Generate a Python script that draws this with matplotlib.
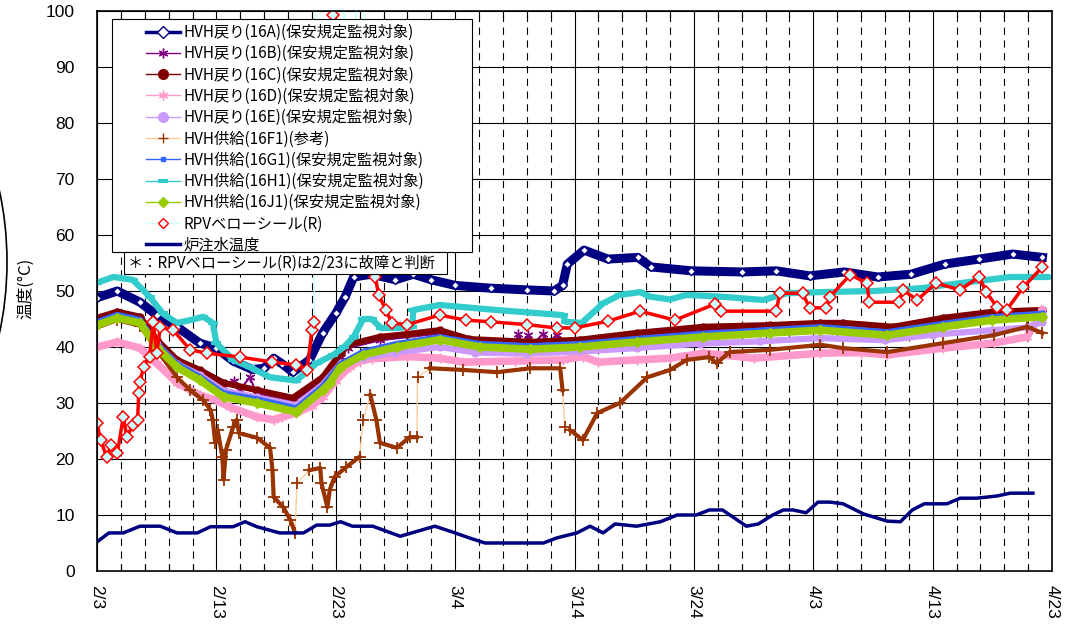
import matplotlib
matplotlib.use('Agg')
import matplotlib.pyplot as plt
from matplotlib.lines import Line2D
from matplotlib.patches import Rectangle, Ellipse
from matplotlib.ticker import MultipleLocator
import numpy as np

plt.rcParams['font.family'] = ['Noto Sans CJK JP', 'DejaVu Sans']

# x軸: 2/3からの経過日数 (2012年, 閏年)
x_ticks = [0, 10, 20, 30, 40, 50, 60, 70, 80]
x_labels = ['2/3', '2/13', '2/23', '3/4', '3/14', '3/24', '4/3', '4/13', '4/23']
y_ticks = [0, 10, 20, 30, 40, 50, 60, 70, 80, 90, 100]

# HVH戻り(16A)
a_day = [0, 1.7, 3.6, 5.0, 6.7, 8.6, 10.0, 11.4, 13.0, 14.0, 14.8, 15.5, 16.4, 17.8,
         18.9, 20.0, 20.8, 21.5, 23.0, 25.0, 26.5, 28.0, 30.0, 33.0, 36.0, 38.3, 39.0,
         39.4, 40.8, 42.8, 45.3, 46.4, 49.8, 54.0, 56.9, 59.7, 62.6, 65.4, 68.2, 71.0,
         73.9, 76.7, 79.2]
a_val = [48.8, 50.0, 48.0, 45.7, 43.6, 40.7, 39.8, 37.5, 36.0, 36.2, 38.0, 37.0, 35.5, 37.7,
         42.5, 46.0, 49.0, 52.5, 53.0, 52.0, 53.0, 52.0, 51.0, 50.5, 50.2, 50.0, 51.0,
         54.8, 57.3, 55.7, 56.0, 54.3, 53.6, 53.4, 53.6, 52.7, 53.4, 52.5, 53.0, 54.8,
         55.7, 56.6, 56.0]

# HVH戻り(16B)
b_day = [0, 1.7, 3.6, 5.0, 6.7, 8.6, 10.6, 11.5, 12.0, 12.8, 13.4, 16.4, 18.9, 20.4,
         21.0, 23.7, 28.7, 31.2, 35.0, 35.3, 35.7, 36.1, 36.5, 37.4, 37.8, 38.5, 39.0,
         40.5, 45.2, 50.8, 56.4, 60.6, 66.7, 70.9, 75.1, 79.2]
b_val = [44.6, 45.7, 44.8, 40.7, 37.1, 35.2, 32.9, 34.0, 32.4, 34.6, 31.6, 30.2, 33.9, 38.2,
         39.8, 41.2, 42.4, 40.8, 40.5, 42.3, 40.5, 42.1, 40.5, 42.4, 40.6, 42.2, 40.6,
         40.7, 41.9, 43.0, 43.3, 43.7, 43.0, 44.6, 45.7, 46.0]

# HVH戻り(16C)
c_day = [0, 1.7, 3.6, 5.0, 6.7, 8.6, 10.6, 13.4, 16.4, 18.9, 20.4, 21.0, 23.7, 26.0,
         28.7, 31.2, 36.3, 40.5, 45.2, 50.8, 56.4, 60.6, 62.5, 66.7, 70.9, 75.1, 79.2]
c_val = [45.2, 46.3, 45.4, 41.3, 37.7, 35.9, 33.6, 32.3, 30.9, 34.6, 38.9, 40.4, 41.8, 42.3,
         43.0, 41.4, 40.9, 41.3, 42.5, 43.6, 43.9, 44.3, 44.3, 43.6, 45.2, 46.3, 46.6]

# HVH戻り(16D)
d_day = [0, 1.7, 3.6, 5.0, 6.7, 8.6, 10.0, 11.1, 13.4, 14.8, 15.5, 16.7, 18.0, 18.9,
         20.0, 21.2, 22.0, 23.0, 26.0, 28.7, 30.7, 35.0, 39.0, 40.7, 42.0, 45.2, 48.0,
         50.8, 55.0, 60.6, 64.0, 66.2, 70.9, 75.1, 77.9, 79.2]
d_val = [40.0, 40.9, 39.8, 37.1, 33.6, 31.4, 30.5, 29.3, 27.5, 27.0, 27.5, 28.2, 29.5, 31.0,
         34.0, 36.5, 37.5, 37.9, 38.3, 38.0, 37.3, 37.5, 37.7, 38.3, 37.3, 37.7, 38.0,
         38.9, 38.0, 38.9, 39.0, 38.6, 39.8, 40.7, 41.8, 46.6]

# HVH戻り(16E)
e_day = [0, 1.7, 3.6, 5.0, 6.7, 8.6, 10.6, 13.4, 16.7, 18.9, 20.4, 22.3, 25.0, 28.7,
         31.7, 36.0, 40.5, 45.2, 50.5, 55.5, 60.6, 66.0, 70.0, 75.0, 78.0, 79.2]
e_val = [44.0, 45.2, 44.3, 40.5, 37.0, 35.0, 32.2, 31.0, 29.6, 33.3, 37.0, 38.0, 39.0, 40.0,
         39.0, 38.8, 39.2, 39.8, 40.6, 41.0, 41.6, 41.2, 42.2, 43.0, 43.5, 44.5]

# HVH供給(16F1)
f_day = [0, 1.7, 3.6, 5.0, 6.7, 7.8, 8.9, 9.5, 9.7, 9.9, 10.1, 10.5, 10.6, 10.8, 11.4,
         11.7, 11.9, 13.4, 14.5, 14.7, 14.8, 15.6, 16.2, 16.6, 16.75, 17.8, 18.7, 18.8,
         19.3, 19.5, 19.9, 20.9, 22.0, 22.3, 22.9, 23.4, 23.7, 25.1, 26.2, 26.8, 26.85,
         27.9, 30.7, 33.5, 36.3, 38.8, 39.0, 39.2, 39.6, 40.7, 41.9, 43.8, 46.1, 48.0,
         49.4, 51.3, 51.9, 53.0, 56.4, 60.6, 62.5, 66.2, 70.9, 75.1, 77.9, 79.2]
f_val = [43.5, 44.8, 43.8, 39.5, 34.6, 32.3, 30.5, 28.8, 27.0, 22.9, 25.2, 20.4, 16.3, 21.6,
         25.7, 27.0, 24.6, 23.8, 22.0, 18.0, 13.2, 11.4, 9.1, 6.8, 15.7, 18.0, 18.4, 15.7,
         11.4, 14.5, 16.8, 18.6, 20.4, 27.0, 31.4, 27.0, 22.9, 22.0, 23.9, 23.9, 34.6,
         36.2, 35.9, 35.5, 36.2, 36.2, 32.3, 25.7, 25.2, 23.4, 28.2, 30.0, 34.6, 35.9,
         37.7, 38.2, 37.1, 39.1, 39.5, 40.4, 39.8, 39.1, 40.7, 42.1, 43.6, 42.5]

# HVH供給(16G1)
g_day = [0, 1.7, 3.6, 5.0, 6.7, 8.6, 10.6, 13.4, 16.7, 18.9, 20.4, 22.3, 25.1, 28.7,
         32.1, 36.3, 40.5, 45.2, 50.8, 56.4, 60.6, 66.2, 70.9, 75.0, 79.2]
g_val = [44.5, 45.8, 44.9, 40.6, 37.0, 34.7, 31.8, 30.7, 29.1, 33.0, 37.0, 39.2, 40.6, 41.8,
         40.6, 40.2, 40.6, 41.5, 42.4, 43.1, 43.6, 42.7, 44.2, 45.4, 46.0]

# HVH供給(16H1)
h_day = [0, 1.4, 3.0, 4.4, 5.5, 6.7, 7.8, 8.9, 9.7, 10.0, 11.4, 12.8, 14.5, 16.7, 18.4,
         19.8, 20.7, 21.5, 22.3, 23.0, 23.8, 25.1, 26.4, 26.5, 28.7, 33.5, 39.0, 39.3,
         40.6, 42.4, 43.8, 45.5, 46.3, 48.0, 49.4, 52.2, 55.8, 57.8, 60.6, 65.0, 69.0,
         72.3, 76.5, 79.6]
h_val = [51.5, 52.5, 52.0, 49.0, 46.0, 44.3, 44.8, 45.4, 44.3, 40.7, 37.7, 36.4, 34.6, 34.0,
         37.1, 38.6, 40.0, 41.8, 45.0, 45.0, 43.4, 43.4, 43.6, 46.6, 47.5, 46.6, 45.7, 44.5,
         44.3, 47.8, 49.3, 49.8, 49.0, 48.5, 49.3, 49.0, 48.4, 49.6, 49.8, 50.0, 50.5,
         51.4, 52.5, 52.5]

# HVH供給(16J1)
j_day = [0, 1.7, 3.6, 5.0, 6.7, 8.6, 10.6, 13.4, 16.7, 18.9, 19.5, 20.4, 22.3, 25.1,
         28.7, 32.1, 36.3, 40.5, 45.2, 50.8, 56.4, 60.6, 66.2, 70.9, 75.0, 79.2]
j_val = [43.9, 45.2, 44.3, 40.0, 36.4, 34.1, 31.1, 30.0, 28.4, 32.3, 33.6, 36.4, 38.6, 40.0,
         41.3, 40.0, 39.6, 40.0, 40.9, 41.8, 42.5, 43.0, 42.1, 43.6, 44.8, 45.4]

# RPVベローシール(R)
r_day = [0, 0.3, 0.8, 1.2, 1.7, 2.2, 2.5, 3.0, 3.4, 3.5, 3.6, 3.9, 4.4, 4.7, 5.0, 5.3,
         6.4, 7.8, 9.2, 12.0, 14.7, 16.7, 17.6, 18.0, 18.2, 18.35, 19.7, 19.8, 19.9,
         20.6, 20.7, 20.8, 21.6, 21.7, 21.8, 23.3, 23.6, 24.2, 24.7, 26.0, 28.7, 30.9,
         33.0, 36.0, 38.5, 40.0, 42.8, 45.5, 48.4, 51.8, 52.3, 56.9, 57.2, 59.1, 59.7,
         61.1, 61.4, 63.1, 64.5, 64.7, 67.2, 67.5, 68.7, 70.3, 72.3, 73.9, 74.5, 75.4,
         76.2, 77.6, 79.2]
r_val = [26.4, 23.4, 20.4, 22.5, 21.0, 27.5, 24.0, 26.0, 27.0, 31.8, 33.8, 36.4, 38.2, 44.5,
         38.9, 43.5, 43.0, 39.5, 38.9, 38.2, 37.3, 36.8, 35.9, 43.0, 44.5, 130, 130, 99.3,
         130, 130, 70, 130, 130, 70, 130, 52.5, 49.3, 46.6, 44.3, 44.0, 45.7, 44.8,
         44.5, 44.0, 43.4, 43.4, 44.6, 46.4, 44.8, 47.7, 46.4, 46.4, 49.6, 49.6, 47.0,
         47.0, 49.0, 52.9, 51.4, 48.0, 48.0, 50.2, 48.4, 51.4, 50.2, 52.5, 49.8, 47.1,
         46.6, 50.7, 54.3]

# 炉注水温度
w_day = [0, 1.0, 2.2, 3.6, 5.3, 6.7, 8.4, 9.5, 11.4, 12.4, 13.4, 15.3, 17.3, 18.4, 19.5,
         20.4, 21.4, 23.1, 25.4, 28.3, 30.0, 31.2, 32.5, 37.4, 38.5, 40.2, 41.3, 42.4,
         43.4, 45.2, 47.2, 48.6, 50.2, 51.3, 52.4, 54.4, 55.4, 56.6, 57.5, 58.3, 59.4,
         60.4, 61.4, 62.5, 64.2, 66.2, 67.3, 68.3, 69.3, 71.2, 72.3, 73.7, 75.4, 76.5, 78.4]
w_val = [5.2, 6.8, 6.8, 8.0, 8.0, 6.8, 6.8, 7.9, 7.9, 8.8, 7.9, 6.8, 6.8, 8.2, 8.2,
         8.8, 8.0, 8.0, 6.2, 8.0, 6.8, 5.9, 5.0, 5.0, 5.9, 6.8, 8.0, 6.8,
         8.4, 8.0, 8.8, 10.0, 10.0, 10.9, 10.9, 8.0, 8.4, 10.0, 10.9, 10.9, 10.4,
         12.3, 12.3, 12.0, 10.2, 8.9, 8.8, 10.9, 12.0, 12.0, 13.0, 13.0, 13.4, 13.9, 13.9]

labels = ['HVH戻り(16A)(保安規定監視対象)', 'HVH戻り(16B)(保安規定監視対象)',
          'HVH戻り(16C)(保安規定監視対象)', 'HVH戻り(16D)(保安規定監視対象)',
          'HVH戻り(16E)(保安規定監視対象)', 'HVH供給(16F1)(参考)',
          'HVH供給(16G1)(保安規定監視対象)', 'HVH供給(16H1)(保安規定監視対象)',
          'HVH供給(16J1)(保安規定監視対象)', 'RPVベローシール(R)', '炉注水温度']
note = '＊：RPVベローシール(R)は2/23に故障と判断'

W, H = 1067, 632
fig = plt.figure(figsize=(W / 100, H / 100), dpi=100)
L, R, T, B = 97, 1052, 11, 571
ax = fig.add_axes([L / W, 1 - B / H, (R - L) / W, (B - T) / H])


def px(x, y):
    """画像のピクセル座標 -> axes座標"""
    return (x - L) / (R - L), (B - y) / (B - T)


ast = (6, 2, 0)
# 帯(太線)+マーカー
ax.plot(a_day, a_val, color='#000080', lw=6.5, solid_joinstyle='round', zorder=2)
ax.plot(a_day, a_val, ls='none', marker='D', ms=4.5, mfc='white', mec='#000080', mew=1, zorder=2)
ax.plot(b_day, b_val, color='#800080', lw=1.5, marker=ast, ms=7, mew=1, zorder=2)
ax.plot(c_day, c_val, color='#800000', lw=4.5, marker='o', ms=5, solid_joinstyle='round', zorder=2)
ax.plot(d_day, d_val, color='#FF99CC', lw=5.5, marker=ast, ms=7, mew=1, solid_joinstyle='round', zorder=2)
ax.plot(e_day, e_val, color='#CC99FF', lw=4.5, marker='o', ms=5, solid_joinstyle='round', zorder=2)
ax.plot(f_day, f_val, color='#FFCC99', lw=1, zorder=2)
ax.plot(f_day, f_val, color='#993300', ls='none', marker='+', ms=8, mew=1.3, zorder=2)
f_band = np.array(f_val)
f_diff = np.abs(np.diff(f_band, prepend=f_band[0]))
ax.plot(f_day, np.where(f_diff < 6, f_band, np.nan), color='#993300', lw=3, zorder=2)
ax.plot(g_day, g_val, color='#3366FF', lw=4, marker='s', ms=3, solid_joinstyle='round', zorder=2)
ax.plot(h_day, h_val, color='#33CCCC', lw=4.5, marker='_', ms=7, mew=3, solid_joinstyle='round', zorder=2)
ax.plot(j_day, j_val, color='#99CC00', lw=5.5, marker='D', ms=5, solid_joinstyle='round', zorder=2)
ax.plot(r_day, r_val, color='#CCFFFF', lw=1, zorder=2)
r_band = np.array(r_val)
ax.plot(r_day, np.where(r_band < 60, r_band, np.nan), color='red', lw=2.5, zorder=2)
ax.plot(r_day, r_val, ls='none', marker='D', ms=6, mfc='#CCFFFF', mec='red', mew=1.1, zorder=2)
ax.plot(w_day, w_val, color='#000080', lw=2.5, zorder=2)

ax.set_xlim(0, 80)
ax.set_ylim(0, 100)
ax.set_xticks(x_ticks)
ax.set_xticklabels(x_labels, rotation=-90, ha='center', va='top', fontsize=12.5,
                   family='Liberation Sans')
ax.xaxis.set_minor_locator(MultipleLocator(2))
ax.set_yticks(y_ticks)
ax.set_yticklabels([str(v) for v in y_ticks], fontsize=12.5, family='Liberation Sans')
ax.tick_params(axis='x', which='major', length=0, pad=10)
ax.tick_params(axis='x', which='minor', direction='in', top=True, bottom=True, length=5, width=0.8)
ax.tick_params(axis='y', length=0, pad=16)
ax.set_axisbelow(True)
ax.grid(which='major', color='black', lw=0.8)
ax.grid(which='minor', axis='x', color='black', lw=0.8, ls=(0, (6.5, 5)))
for s in ax.spines.values():
    s.set_linewidth(1.2)
    s.set_color('black')

# 凡例
ax.add_patch(Rectangle(px(112, 252), (472 - 112) / (R - L), (252 - 19) / (B - T),
                       transform=ax.transAxes, facecolor='white', edgecolor='black',
                       lw=0.8, zorder=10, clip_on=False))
handles = [
    Line2D([], [], color='#000080', lw=2.5, marker='D', ms=6, mfc='white', mec='#000080'),
    Line2D([], [], color='#800080', lw=1, marker=ast, ms=7),
    Line2D([], [], color='#800000', lw=1, marker='o', ms=7),
    Line2D([], [], color='#FF99CC', lw=1, marker=ast, ms=7),
    Line2D([], [], color='#CC99FF', lw=1, marker='o', ms=7),
    Line2D([], [], color='#FFCC99', lw=1, marker='+', ms=7, mec='#993300'),
    Line2D([], [], color='#3366FF', lw=1, marker='s', ms=3),
    Line2D([], [], color='#33CCCC', lw=1, marker='_', ms=7, mew=3),
    Line2D([], [], color='#99CC00', lw=1, marker='D', ms=5),
    Line2D([], [], color='#CCFFFF', lw=1, marker='D', ms=5, mfc='white', mec='red'),
    Line2D([], [], color='#000080', lw=2.5),
]
leg = ax.legend(handles, labels, loc='upper left', bbox_to_anchor=px(146, 24),
                frameon=False, fontsize=11, borderpad=0, borderaxespad=0,
                handlelength=2.2, handletextpad=0.25, labelspacing=0.28)
leg.set_zorder(11)

# 注記
ax.add_patch(Rectangle(px(124, 274), (447 - 124) / (R - L), (274 - 252) / (B - T),
                       transform=ax.transAxes, facecolor='white', edgecolor='black',
                       lw=0.8, zorder=12, clip_on=False))
ax.text(*px(128, 263), note, transform=ax.transAxes, fontsize=11, ha='left', va='center',
        zorder=13)

fig.text(26 / W, 1 - 288 / H, '温度(°C)', rotation=90, ha='center', va='center', fontsize=12)
fig.add_artist(Ellipse((-100 / W, 1 - 262 / H), 214 / W, 386 / H, transform=fig.transFigure,
                       fill=False, lw=1.2, ec='black', clip_on=False))

fig.savefig('out.png', dpi=100)
